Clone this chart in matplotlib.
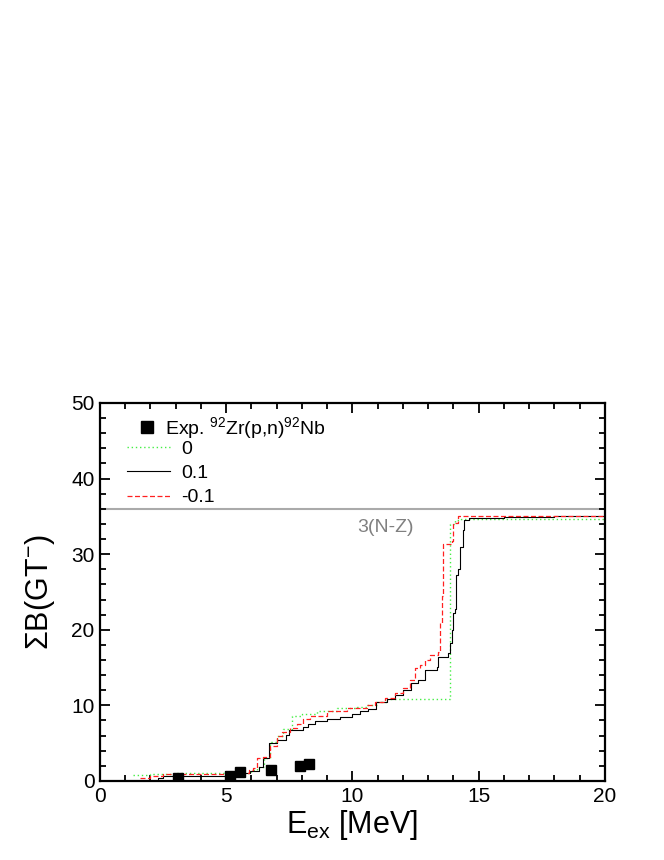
import numpy as np
import matplotlib
matplotlib.use('Agg')
import matplotlib.pyplot as plt
from matplotlib.lines import Line2D
from matplotlib.ticker import MultipleLocator

plt.rcParams['font.family'] = ['Liberation Sans', 'DejaVu Sans']
plt.rcParams['mathtext.fontset'] = 'custom'
plt.rcParams['mathtext.rm'] = 'Liberation Sans'
plt.rcParams['mathtext.it'] = 'Liberation Sans:italic'
plt.rcParams['mathtext.default'] = 'regular'

# experimental 92Zr(p,n)92Nb
exp_x = [3.08, 5.15, 5.54, 6.77, 7.92, 8.29]
exp_y = [0.36, 0.7, 1.15, 1.5, 2.0, 2.3]

# running sums, calc "0"
g_x = [1.32, 2.0, 3.0, 5.5, 6.0, 6.2, 6.5, 6.73, 7.0, 7.26, 7.59, 8.0, 8.58,
       9.37, 10.16, 10.56, 10.96, 11.35, 13.86, 14.06, 14.3, 20.0]
g_y = [0.8, 0.9, 1.0, 1.1, 1.5, 1.8, 3.0, 5.1, 6.0, 6.9, 8.6, 8.9, 9.2,
       9.6, 9.8, 10.0, 10.5, 10.9, 34.0, 34.5, 34.6, 34.6]

# calc "0.1"
k_x = [2.05, 2.3, 2.5, 5.3, 5.55, 5.95, 6.3, 6.45, 6.7, 7.0, 7.35, 7.5, 8.05,
       8.25, 8.5, 9.0, 9.5, 10.0, 10.3, 10.6, 10.95, 11.35, 11.7, 12.0, 12.3,
       12.6, 12.87, 13.33, 13.4, 13.8, 13.86, 13.93, 14.0, 14.06, 14.1, 14.19,
       14.26, 14.36, 14.4, 14.6, 16.0, 18.0, 20.0]
k_y = [0.0, 0.4, 0.7, 0.9, 1.1, 1.3, 1.8, 3.0, 5.0, 5.4, 6.1, 6.8, 7.1,
       7.6, 7.9, 8.2, 8.5, 8.8, 9.2, 9.5, 10.4, 10.9, 11.4, 12.0, 13.0,
       13.4, 14.7, 15.1, 16.4, 16.9, 18.2, 20.0, 22.2, 22.8, 27.2, 28.0,
       31.0, 33.2, 34.5, 34.8, 34.9, 35.0, 35.1]

# calc "-0.1"
r_x = [1.58, 2.0, 2.5, 5.5, 5.9, 6.07, 6.2, 6.47, 6.73, 7.0, 7.2, 7.52, 7.79,
       8.05, 8.32, 8.98, 9.77, 10.56, 10.9, 11.3, 11.7, 12.0, 12.28, 12.48,
       12.67, 12.87, 13.07, 13.4, 13.47, 13.53, 13.6, 13.93, 13.99, 14.19,
       16.0, 20.0]
r_y = [0.4, 0.6, 0.95, 1.1, 1.4, 1.7, 3.0, 3.2, 4.6, 5.9, 6.5, 7.0, 7.6,
       8.2, 8.6, 9.3, 9.6, 10.1, 10.5, 11.0, 11.6, 12.3, 13.4, 14.9,
       15.3, 16.0, 16.7, 17.1, 20.9, 24.5, 31.4, 31.7, 34.1, 35.0,
       35.1, 35.2]

sum_rule = 36.0  # 3(N-Z)

fig = plt.figure(figsize=(6.64, 8.6), dpi=100)
ax = fig.add_axes([0.1506, 0.0919, 0.7605, 0.4395])

ax.axhline(sum_rule, color='#aaaaaa', lw=1.5, zorder=1)
ax.text(11.3, 33.5, '3(N-Z)', color='#808080', fontsize=14, ha='center', va='center')

ax.plot(g_x, g_y, drawstyle='steps-post', color='#44ee44', ls=(0, (1, 2)), lw=1.0)
ax.plot(k_x, k_y, drawstyle='steps-post', color='black', ls='-', lw=0.8)
ax.plot(r_x, r_y, drawstyle='steps-post', color='#ff2020', ls=(0, (4, 2)), lw=0.9)
ax.plot(exp_x, exp_y, 's', color='black', ms=7, zorder=5)

ax.set_xlim(0, 20)
ax.set_ylim(0, 50)
ax.xaxis.set_major_locator(MultipleLocator(5))
ax.xaxis.set_minor_locator(MultipleLocator(1))
ax.yaxis.set_major_locator(MultipleLocator(10))
ax.yaxis.set_minor_locator(MultipleLocator(2))
ax.tick_params(which='both', direction='in', top=True, right=True, width=1.3)
ax.tick_params(which='major', length=7, labelsize=15, pad=4)
ax.tick_params(which='minor', length=4)
for s in ax.spines.values():
    s.set_linewidth(1.6)

ax.set_xlabel(r'E$_{\mathrm{ex}}$ [MeV]', fontsize=22, labelpad=2)
ax.set_ylabel(r'$\Sigma$B(GT$^{-}$)', fontsize=22, labelpad=10)

h1 = [Line2D([], [], ls='none', marker='s', color='black', ms=8)]
leg1 = ax.legend(h1, [r'Exp. $^{92}$Zr(p,n)$^{92}$Nb'], loc='upper left',
                 bbox_to_anchor=(0.074, 0.968), frameon=False, fontsize=14,
                 handlelength=1.0, handletextpad=0.43, borderpad=0, borderaxespad=0)
ax.add_artist(leg1)
h2 = [Line2D([], [], color='#44ee44', ls=(0, (1, 2)), lw=1.0),
      Line2D([], [], color='black', lw=0.8),
      Line2D([], [], color='#ff2020', ls=(0, (4, 2)), lw=0.9)]
ax.legend(h2, ['0', '0.1', '-0.1'], loc='upper left', bbox_to_anchor=(0.053, 0.902),
          frameon=False, fontsize=14, handlelength=2.2, handletextpad=0.6,
          labelspacing=0.35, borderpad=0, borderaxespad=0)

fig.savefig('out.png', dpi=100)
